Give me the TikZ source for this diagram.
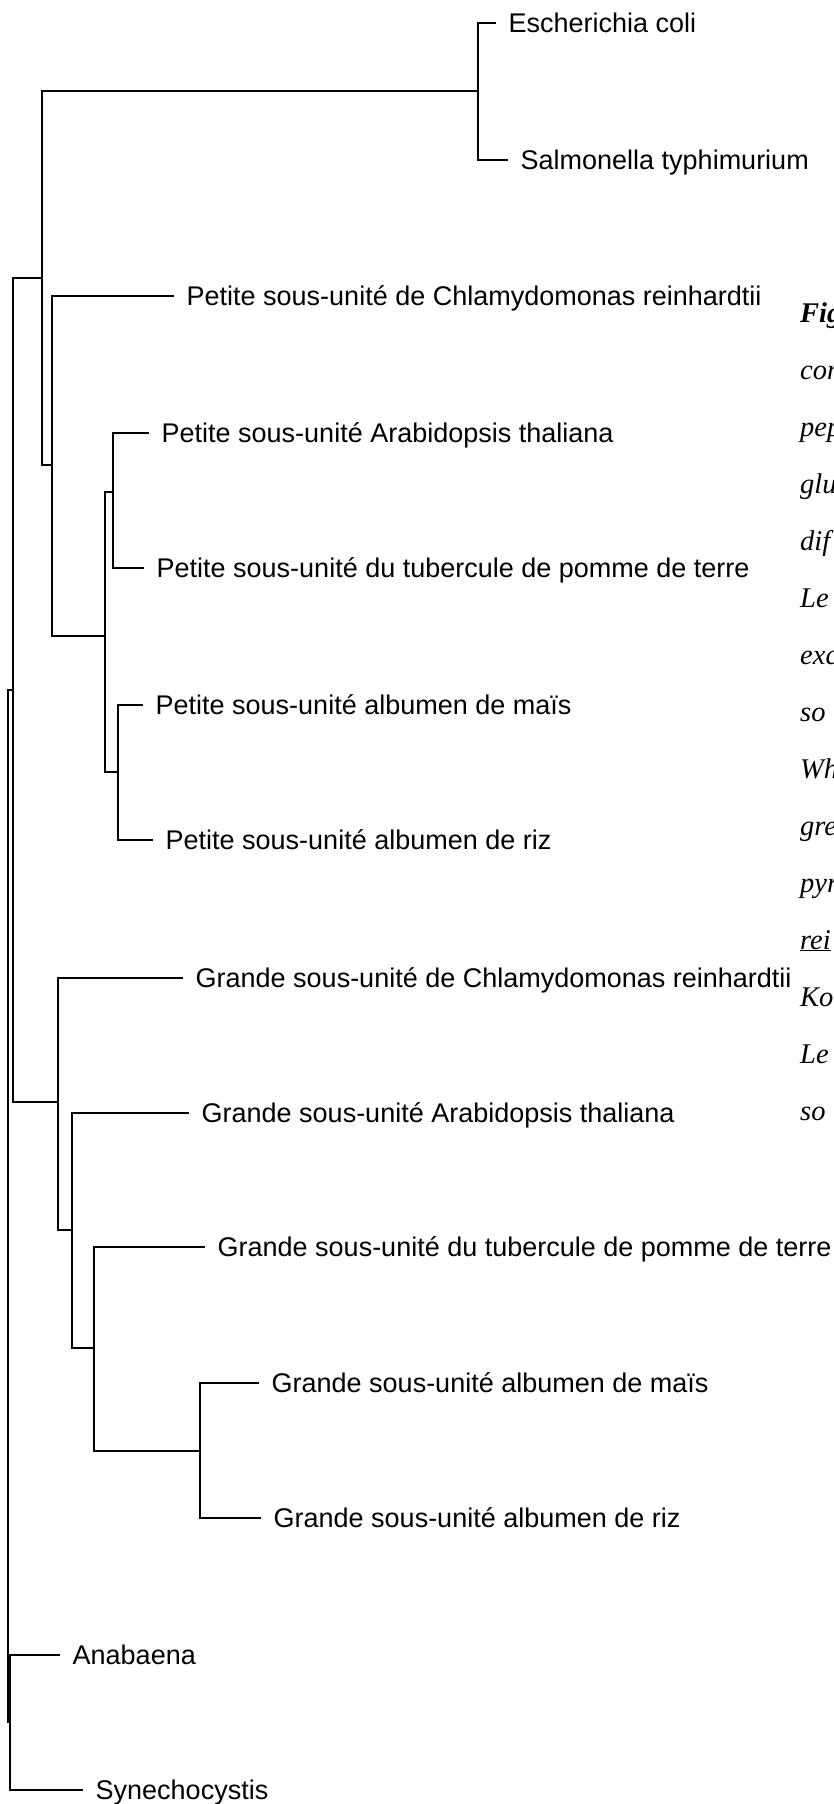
\documentclass[tikz,border=0pt]{standalone}
\usepackage{fontspec}
\setmainfont{Liberation Sans}
\newfontfamily\notefont{Liberation Serif}
\begin{document}
\begin{tikzpicture}[x=1pt,y=-1pt,
  branch/.style={line width=2.2pt, line cap=rect},
  lab/.style={anchor=base west, inner sep=0pt, xshift=13.5pt, yshift=-9.6pt,
              font=\fontsize{27}{30}\selectfont},
  note/.style={anchor=base west, inner sep=0pt,
               font=\notefont\itshape\fontsize{28.5}{32}\selectfont}]
\useasboundingbox (0,0) rectangle (833,1804);
\clip (0,0) rectangle (833,1804);

% ---- internal nodes (x of the vertical bar, y where the parent attaches)
\coordinate (nR) at (8,1206);
\coordinate (nG) at (13,690);
\coordinate (nK) at (10,1722);
\coordinate (nA) at (42,278);
\coordinate (nES) at (478,91);
\coordinate (nB) at (52,465);
\coordinate (nC) at (105,636);
\coordinate (nD) at (113,492);
\coordinate (nE) at (118,772);
\coordinate (nF) at (58,1102);
\coordinate (nH) at (72,1230);
\coordinate (nI) at (94,1348);
\coordinate (nJ) at (200,1451);

% ---- leaf tips
\coordinate (tEC) at (495,23);
\coordinate (tST) at (507,160);
\coordinate (tPC) at (173,296);
\coordinate (tPA) at (148,433);
\coordinate (tPT) at (143,568);
\coordinate (tPM) at (142,705);
\coordinate (tPR) at (152,840);
\coordinate (tGC) at (182,978);
\coordinate (tGA) at (188,1113);
\coordinate (tGT) at (204,1247);
\coordinate (tGM) at (258,1383);
\coordinate (tGR) at (260,1518);
\coordinate (tAn) at (59,1655);
\coordinate (tSy) at (82,1790);

% ---- leaf labels
\node[lab] (EC) at (tEC) {Escherichia coli};
\node[lab] (ST) at (tST) {Salmonella typhimurium};
\node[lab] (PC) at (tPC) {Petite sous-unité de Chlamydomonas reinhardtii};
\node[lab] (PA) at (tPA) {Petite sous-unité Arabidopsis thaliana};
\node[lab] (PT) at (tPT) {Petite sous-unité du tubercule de pomme de terre};
\node[lab] (PM) at (tPM) {Petite sous-unité albumen de maïs};
\node[lab] (PR) at (tPR) {Petite sous-unité albumen de riz};
\node[lab] (GC) at (tGC) {Grande sous-unité de Chlamydomonas reinhardtii};
\node[lab] (GA) at (tGA) {Grande sous-unité Arabidopsis thaliana};
\node[lab] (GT) at (tGT) {Grande sous-unité du tubercule de pomme de terre};
\node[lab] (GM) at (tGM) {Grande sous-unité albumen de maïs};
\node[lab] (GR) at (tGR) {Grande sous-unité albumen de riz};
\node[lab] (An) at (tAn) {Anabaena};
\node[lab] (Sy) at (tSy) {Synechocystis};

% ---- branches
\draw[branch] (tEC) -| (nES) |- (tST);
\draw[branch] (nES) -| (nA) |- (nB);
\draw[branch] (tPC) -| (nB) |- (nC);
\draw[branch] (nD) -| (nC) |- (nE);
\draw[branch] (tPA) -| (nD) |- (tPT);
\draw[branch] (tPM) -| (nE) |- (tPR);
\draw[branch] (nA) -| (nG) |- (nF);
\draw[branch] (tGC) -| (nF) |- (nH);
\draw[branch] (tGA) -| (nH) |- (nI);
\draw[branch] (tGT) -| (nI) |- (nJ);
\draw[branch] (tGM) -| (nJ) |- (tGR);
\draw[branch] (tAn) -| (nK) |- (tSy);
\draw[branch] (nG) -| (nR) |- (nK);

% ---- caption column, running past the right edge
\node[note, font=\notefont\bfseries\itshape\fontsize{28.5}{32}\selectfont] (c1) at (800,322) {Fig};
\node[note] (c2) at (800,379) {con};
\node[note] (c3) at (800,436) {pep};
\node[note] (c4) at (800,493) {glu};
\node[note] (c5) at (800,550) {dif};
\node[note] (c6) at (800,607) {Le};
\node[note] (c7) at (800,664) {exc};
\node[note] (c8) at (800,721) {so};
\node[note] (c9) at (800,778) {Wh};
\node[note] (c10) at (800,835) {gre};
\node[note] (c11) at (800,892) {pyr};
\node[note] (c12) at (800,949) {\underline{rei}};
\node[note] (c13) at (800,1006) {Ko};
\node[note] (c14) at (800,1063) {Le};
\node[note] (c15) at (800,1120) {so};
\end{tikzpicture}
\end{document}
